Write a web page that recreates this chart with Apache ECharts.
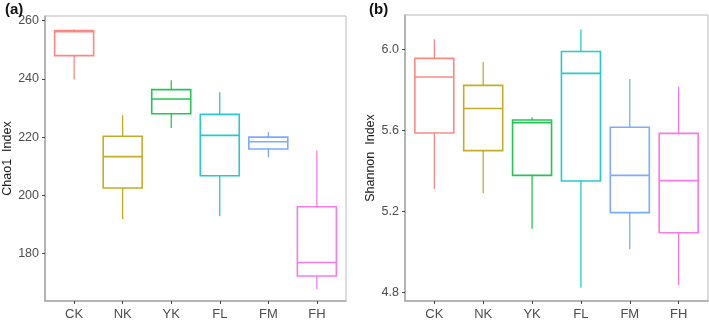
<!DOCTYPE html>
<html>
<head>
<meta charset="utf-8">
<script src="https://cdn.jsdelivr.net/npm/echarts@6/dist/echarts.min.js"></script>
<style>
  html, body { margin: 0; padding: 0; background: #fff; }
  #chart { width: 709px; height: 320px; }
</style>
</head>
<body>
<div id="chart"></div>
<script>
'use strict';
const groups = ['CK', 'NK', 'YK', 'FL', 'FM', 'FH'];
const colors = ['#F8766D', '#B79F00', '#00BA38', '#00BFC4', '#619CFF', '#F564E3'];

// [min, Q1, median, Q3, max]
const chao1 = [
    [239.8, 248.0, 256.2, 256.6, 257.0],
    [191.8, 202.5, 213.3, 220.3, 227.5],
    [223.1, 228.0, 233.1, 236.3, 239.5],
    [192.8, 206.7, 220.6, 227.8, 235.4],
    [213.1, 215.9, 218.4, 220.0, 221.7],
    [167.7, 172.3, 176.9, 196.1, 215.4],
];
const shannon = [
    [5.310, 5.586, 5.862, 5.954, 6.048],
    [5.288, 5.499, 5.707, 5.821, 5.936],
    [5.114, 5.377, 5.637, 5.650, 5.663],
    [4.823, 5.349, 5.880, 5.988, 6.097],
    [5.012, 5.193, 5.377, 5.614, 5.852],
    [4.836, 5.094, 5.351, 5.584, 5.814],
];
const chaoTicks = [180, 200, 220, 240, 260];
const shannonTicks = [4.8, 5.2, 5.6, 6.0];
const groupPos = [1, 2, 3, 4, 5, 6];

function xAxisFor(gridIndex) {
    return {
        type: 'value',
        gridIndex: gridIndex,
        min: 0.4,
        max: 6.6,
        axisLine: { show: true, lineStyle: { color: '#a6a6a6', width: 1.5 } },
        axisTick: { show: true, customValues: groupPos, length: 3, lineStyle: { color: '#444' } },
        axisLabel: {
            customValues: groupPos,
            formatter: (v) => groups[Math.round(v) - 1],
            color: '#4d4d4d',
            fontSize: 13,
            fontFamily: 'Liberation Sans',
            margin: 7,
        },
        splitLine: { show: false },
    };
}

function yAxisFor(gridIndex, min, max, ticks, name, digits, gap) {
    return {
        type: 'value',
        gridIndex: gridIndex,
        min: min,
        max: max,
        name: name,
        nameLocation: 'middle',
        nameGap: gap,
        nameTextStyle: { color: '#1a1a1a', fontSize: 12.5, fontFamily: 'Liberation Sans' },
        axisLine: { show: true, lineStyle: { color: '#a6a6a6', width: 1.5 } },
        axisTick: { show: true, customValues: ticks, length: 3, lineStyle: { color: '#444' } },
        axisLabel: {
            customValues: ticks,
            formatter: (v) => v.toFixed(digits),
            color: '#4d4d4d',
            fontSize: 12.5,
            fontFamily: 'Liberation Sans',
            margin: 6,
        },
        splitLine: { show: false },
    };
}

// boxes only: whiskers collapsed onto the box edges
function boxSeries(idx, stats) {
    return {
        type: 'boxplot',
        xAxisIndex: idx,
        yAxisIndex: idx,
        boxWidth: [39, 39],
        z: 3,
        data: stats.map((s, i) => ({
            value: [groupPos[i], s[1], s[1], s[2], s[3], s[3]],
            itemStyle: { color: '#fff', borderColor: colors[i], borderWidth: 1.6, opacity: 0.85 },
        })),
        emphasis: { disabled: true },
        animation: false,
    };
}

// plain vertical whiskers, no end caps
function whiskerSeries(idx, stats) {
    return {
        type: 'custom',
        xAxisIndex: idx,
        yAxisIndex: idx,
        z: 2,
        data: stats.map((s, i) => [groupPos[i], s[0], s[1], s[3], s[4]]),
        renderItem: (params, api) => {
            const x = api.value(0);
            const c = colors[params.dataIndex];
            const p0 = api.coord([x, api.value(1)]);
            const p1 = api.coord([x, api.value(2)]);
            const p2 = api.coord([x, api.value(3)]);
            const p3 = api.coord([x, api.value(4)]);
            return {
                type: 'group',
                children: [
                    { type: 'line', shape: { x1: p0[0], y1: p0[1], x2: p1[0], y2: p1[1] }, style: { stroke: c, lineWidth: 1.1 } },
                    { type: 'line', shape: { x1: p2[0], y1: p2[1], x2: p3[0], y2: p3[1] }, style: { stroke: c, lineWidth: 1.1 } },
                ],
            };
        },
        animation: false,
    };
}

const chart = echarts.init(document.getElementById('chart'));
chart.setOption({
    backgroundColor: '#fff',
    animation: false,
    title: [
        { text: '(a)', left: 0, top: -3, textStyle: { fontSize: 15, fontWeight: 'bold', color: '#111', fontFamily: 'Liberation Sans' } },
        { text: '(b)', left: 364, top: -3, textStyle: { fontSize: 15, fontWeight: 'bold', color: '#111', fontFamily: 'Liberation Sans' } },
    ],
    grid: [
        { left: 45, top: 16, width: 301, height: 285, outerBoundsMode: 'none', containLabel: false, show: true, borderColor: '#bbb', borderWidth: 1, backgroundColor: '#fff' },
        { left: 405, top: 15, width: 303, height: 286, outerBoundsMode: 'none', containLabel: false, show: true, borderColor: '#bbb', borderWidth: 1, backgroundColor: '#fff' },
    ],
    xAxis: [xAxisFor(0), xAxisFor(1)],
    yAxis: [
        yAxisFor(0, 163.7, 261.6, chaoTicks, 'Chao1  Index', 0, 29),
        yAxisFor(1, 4.757, 6.168, shannonTicks, 'Shannon  Index', 1, 28),
    ],
    series: [
        whiskerSeries(0, chao1), boxSeries(0, chao1),
        whiskerSeries(1, shannon), boxSeries(1, shannon),
    ],
});
</script>
</body>
</html>
